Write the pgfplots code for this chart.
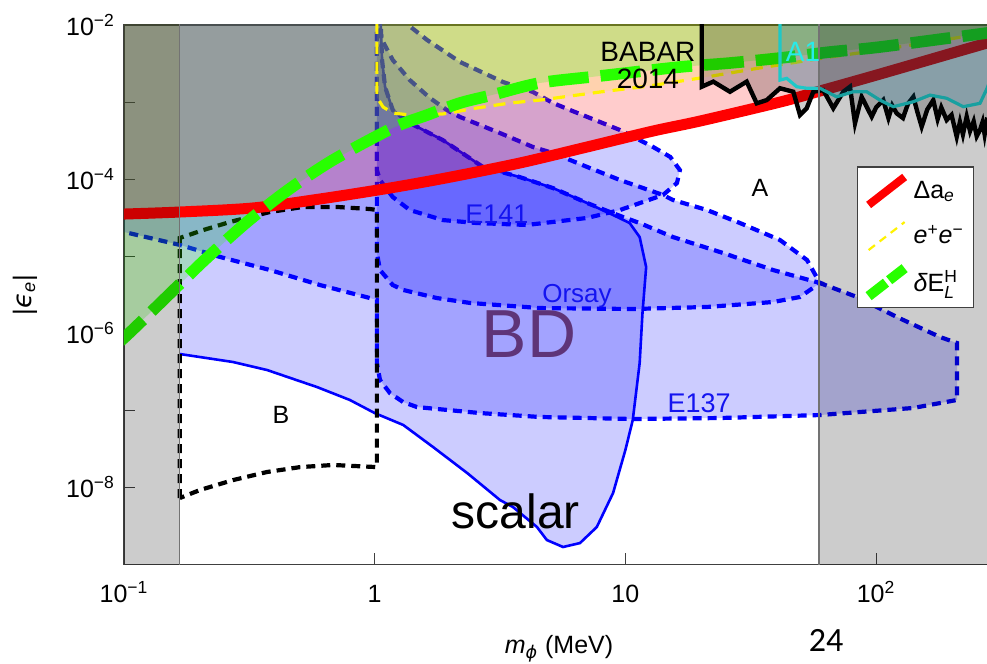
\documentclass[border=0pt]{standalone}
\usepackage{amsmath}
\usepackage{fontspec}
\setmainfont{Liberation Sans}
\newfontfamily\dejavu{DejaVu Sans}
\newfontfamily\carlito{Carlito}
\usepackage{pgfplots}
\pgfplotsset{compat=1.18}
\definecolor{bdpurple}{RGB}{94,52,120}
\definecolor{txtblue}{RGB}{20,20,240}
\definecolor{aoneline}{RGB}{30,200,200}
\definecolor{aonetext}{RGB}{40,235,235}
\definecolor{lgreen}{RGB}{40,255,0}
\begin{document}
\begin{tikzpicture}
\begin{loglogaxis}[
  scale only axis, width=435.86pt, height=269.68pt,
  xmin=0.1, xmax=300, ymin=1e-9, ymax=1e-2,
  xtick={0.1,1,10,100},
  xticklabels={10\textsuperscript{−1},1,10,10\textsuperscript{2}},
  ytick={1e-9,1e-8,1e-7,1e-6,1e-5,1e-4,1e-3,1e-2},
  yticklabels={,10\textsuperscript{−8},,10\textsuperscript{−6},,10\textsuperscript{−4},,10\textsuperscript{−2}},
  xminorticks=false, yminorticks=false,
  tick align=inside, major tick length=5.5pt,
  xtick pos=left, ytick pos=left,
  tick style={black!75, line width=0.5pt},
  axis line style={black!75, line width=0.6pt},
  tick label style={font=\fontsize{12.5}{15}\selectfont},
  xticklabel style={anchor=base, yshift=-19pt},
  yticklabel style={xshift=-1pt},
  xlabel={\textit{m}\textsubscript{{\dejavu\itshape ϕ}} (MeV)},
  xlabel style={at={(axis description cs:0.499,-0.1557)}, anchor=center, font=\fontsize{12.5}{15}\selectfont},
  ylabel={|{\dejavu\itshape ϵ}\textsubscript{\itshape e}|},
  ylabel style={at={(axis description cs:-0.1136,0.4987)}, anchor=center, font=\fontsize{13}{15}\selectfont},
  legend style={at={(0.8409,0.7379)}, anchor=north west, draw=black!75, line width=0.6pt, fill=white,
    font=\fontsize{12.5}{15}\selectfont, row sep=6pt, inner xsep=3pt, inner ysep=3pt},
  legend cell align=left,
  legend image code/.code={\draw[#1] (0pt,-7pt) -- (18pt,7pt);},
]
\addlegendimage{red, line width=4pt}
\addlegendentry{Δa\textsubscript{\itshape e}}
\addlegendimage{yellow, line width=1.1pt, dash pattern=on 4pt off 3pt}
\addlegendentry{\textit{e}\textsuperscript{+}\textit{e}\textsuperscript{−}}
\addlegendimage{lgreen, line width=5pt, dash pattern=on 11pt off 2pt}
\addlegendentry{\textit{δ}E$^{\textup{H}}_{\textit{L}}$}

% ---- scalar region (solid boundary)
\addplot[forget plot, draw=none, fill=blue, fill opacity=0.2] coordinates {
(0.167,0.02) (0.167,5.37e-7) (0.272,4.23e-7) (0.372,3.33e-7) (0.589,2.0e-7) (0.796,1.36e-7)
(1.0,9.2e-8) (1.3,6.44e-8) (1.71,3.33e-8) (2.34,1.53e-8) (3.16,6.84e-9) (3.56,5.55e-9)
(4.44,3.05e-9) (4.86,2.07e-9) (5.64,1.68e-9) (6.59,1.89e-9) (7.69,3.05e-9) (8.93,8.43e-9)
(10.0,3.05e-8) (10.7,7.47e-8) (11.4,4.1e-7) (11.7,1.83e-6) (12.1,7.23e-6) (11.4,1.77e-5)
(10.4,2.69e-5) (8.93,3.42e-5) (7.03,4.9e-5) (5.14,7.66e-5) (3.8,1.06e-4) (2.7,1.44e-4)
(1.87,3.21e-4) (1.38,5.35e-4) (1.18,7.89e-4) (1.1,1.57e-3) (1.07,3.52e-3) (1.05,0.02)} -- cycle;

% ---- E137
\addplot[forget plot, draw=blue, line width=2.1pt, dash pattern=on 4.5pt off 3pt, fill=blue, fill opacity=0.2, draw opacity=1] coordinates {
(0.08,2.3e-5) (0.1,2.06e-5) (0.167,1.4e-5) (0.242,9.75e-6) (0.382,6.61e-6) (0.605,4.22e-6)
(0.957,2.86e-6) (1.02,2.7e-6) (1.02,4.1e-7) (1.05,2.47e-7) (1.15,1.67e-7) (1.297,1.28e-7)
(1.475,1.1e-7) (2.63,9.2e-8) (4.56,8.18e-8) (10.72,7.7e-8) (23.84,7.93e-8) (59.7,8.67e-8)
(140.4,1.07e-7) (210.3,1.36e-7) (210.3,7.46e-7) (179.8,8.93e-7) (121.2,1.62e-6) (83.9,2.95e-6)
(59.7,4.48e-6) (53.0,8.92e-6) (41.37,1.62e-5) (28.65,2.69e-5) (21.16,3.97e-5) (15.48,5.36e-5)
(14.13,6.22e-5) (9.51,9.73e-5) (7.03,1.44e-4) (5.14,2.18e-4) (4.28,2.61e-4) (3.16,3.96e-4)
(2.19,6.4e-4) (1.94,7.89e-4) (1.66,1.13e-3) (1.38,1.93e-3) (1.18,3.52e-3) (1.07,6.38e-3)
(1.04,1e-2) (1.035,0.02) (0.08,0.02)} -- cycle;

% ---- Orsay
\addplot[forget plot, draw=blue, line width=2.1pt, dash pattern=on 4.5pt off 3pt, fill=blue, fill opacity=0.2, draw opacity=1] coordinates {
(1.02,0.02) (1.02,1.1e-5) (1.05,6.61e-6) (1.18,4.22e-6) (1.3,3.64e-6) (1.77,2.86e-6)
(2.4,2.47e-6) (4.56,2.12e-6) (10.7,2.06e-6) (21.16,2.19e-6) (38.8,2.54e-6) (49.7,2.95e-6)
(59.7,4.48e-6) (38.8,6.61e-6) (24.5,1.1e-5) (15.48,1.77e-5) (11.4,2.69e-5) (9.78,3.22e-5)
(8.68,3.74e-5) (7.03,4.9e-5) (5.14,7.66e-5) (3.8,1.06e-4) (2.7,1.44e-4) (1.87,3.21e-4)
(1.38,5.35e-4) (1.18,7.89e-4) (1.1,1.57e-3) (1.07,3.52e-3) (1.05,0.02)} -- cycle;

% ---- E141
\addplot[forget plot, draw=blue, line width=2.1pt, dash pattern=on 4.5pt off 3pt, fill=blue, fill opacity=0.2, draw opacity=1] coordinates {
(1.02,0.02) (1.02,1.31e-4) (1.05,9.73e-5) (1.18,5.86e-5) (1.38,3.97e-5) (1.87,2.94e-5)
(2.56,2.69e-5) (4.05,2.54e-5) (7.03,3.13e-5) (9.51,3.97e-5) (14.13,6.22e-5) (16.06,8.89e-5)
(16.5,1.31e-4) (15.1,1.94e-4) (12.9,2.61e-4) (9.51,4.34e-4) (6.01,7.89e-4) (5.14,9.73e-4)
(4.28,1.35e-3) (3.25,1.82e-3) (2.19,3.31e-3) (1.62,6.38e-3) (1.36,1e-2) (1.3,0.02)} -- cycle;

% ---- scalar solid boundary
\addplot[forget plot, blue, line width=1.3pt] coordinates {
(0.167,5.37e-7) (0.272,4.23e-7) (0.372,3.33e-7) (0.589,2.0e-7) (0.796,1.36e-7)
(1.0,9.2e-8) (1.3,6.44e-8) (1.71,3.33e-8) (2.34,1.53e-8) (3.16,6.84e-9) (3.56,5.55e-9)
(4.44,3.05e-9) (4.86,2.07e-9) (5.64,1.68e-9) (6.59,1.89e-9) (7.69,3.05e-9) (8.93,8.43e-9)
(10.0,3.05e-8) (10.7,7.47e-8) (11.4,4.1e-7) (11.7,1.83e-6) (12.1,7.23e-6) (11.4,1.77e-5)
(10.4,2.69e-5) (8.93,3.42e-5) (7.03,4.9e-5) (5.14,7.66e-5) (3.8,1.06e-4) (2.7,1.44e-4)
(1.87,3.21e-4) (1.38,5.35e-4) (1.18,7.89e-4) (1.1,1.57e-3) (1.07,3.52e-3) (1.05,0.02)};

% ---- B box (black dashed)
\addplot[forget plot, black, line width=2.1pt, dash pattern=on 4.5pt off 3pt] coordinates {
(0.167,7.26e-9) (0.167,1.72e-5) (0.207,2.18e-5) (0.265,2.78e-5) (0.382,3.74e-5) (0.518,4.35e-5)
(0.707,4.35e-5) (0.957,4.09e-5) (1.02,3.97e-5) (1.02,1.83e-8) (0.682,1.95e-8) (0.504,1.83e-8)
(0.372,1.58e-8) (0.272,1.24e-8) (0.201,9.23e-9)} -- cycle;

% ---- translucent exclusion fills
\addplot[forget plot, draw=none, fill=red, fill opacity=0.2] coordinates {
(0.09,3.5e-5) (0.1,3.52e-5) (0.167,3.74e-5) (0.327,4.22e-5) (0.605,5.52e-5) (1.15,7.66e-5)
(2.0,1.06e-4) (3.8,1.62e-4) (7.03,2.61e-4) (12.9,4.21e-4) (19.9,5.68e-4) (41.4,1.0e-3)
(59.7,1.39e-3) (103.7,2.31e-3) (277,5.83e-3) (320,6.5e-3) (320,0.02) (0.09,0.02)} -- cycle;
\addplot[forget plot, draw=none, fill=yellow, fill opacity=0.15] coordinates {
(1.02,0.02) (1.02,1.16e-3) (1.08,8.63e-4) (1.18,7.21e-4) (1.38,6.79e-4) (1.87,7.0e-4)
(2.56,8.38e-4) (3.47,9.72e-4) (4.56,1.06e-3) (7.92,1.35e-3) (12.5,1.62e-3) (19.9,2.05e-3)
(34.4,2.77e-3) (61.4,3.73e-3) (103.7,4.74e-3) (277,7.87e-3) (320,8.3e-3) (320,0.02)} -- cycle;
\addplot[forget plot, draw=none, fill=lgreen, fill opacity=0.22] coordinates {
(0.09,7e-7) (0.1,8.67e-7) (0.167,4.35e-6) (0.214,9.46e-6) (0.31,2.78e-5) (0.451,7.22e-5)
(0.682,1.77e-4) (1.18,4.6e-4) (1.62,6.79e-4) (2.19,9.72e-4) (2.96,1.24e-3) (4.56,1.77e-3)
(7.92,2.18e-3) (16.5,2.85e-3) (26.1,3.21e-3) (41.4,3.73e-3) (65.5,4.46e-3) (103.7,5.18e-3)
(277,7.87e-3) (320,8.3e-3) (320,0.02) (0.09,0.02)} -- cycle;

% ---- lines
\addplot[forget plot, red, line width=5.5pt, smooth] coordinates {
(0.09,3.5e-5) (0.1,3.52e-5) (0.167,3.74e-5) (0.327,4.22e-5) (0.605,5.52e-5) (1.15,7.66e-5)
(2.0,1.06e-4) (3.8,1.62e-4) (7.03,2.61e-4) (12.9,4.21e-4) (19.9,5.68e-4) (41.4,1.0e-3)
(59.7,1.39e-3) (103.7,2.31e-3) (277,5.83e-3) (320,6.5e-3)};
\addplot[forget plot, yellow, line width=1.6pt, dash pattern=on 6pt off 4pt] coordinates {
(1.02,0.02) (1.02,1.16e-3) (1.08,8.63e-4) (1.18,7.21e-4) (1.38,6.79e-4) (1.87,7.0e-4)
(2.56,8.38e-4) (3.47,9.72e-4) (4.56,1.06e-3) (7.92,1.35e-3) (12.5,1.62e-3) (19.9,2.05e-3)
(34.4,2.77e-3) (61.4,3.73e-3) (103.7,4.74e-3) (277,7.87e-3) (320,8.3e-3)};
\addplot[forget plot, lgreen, line width=5.8pt, dash pattern=on 20pt off 6pt, smooth] coordinates {
(0.09,7e-7) (0.1,8.67e-7) (0.167,4.35e-6) (0.214,9.46e-6) (0.31,2.78e-5) (0.451,7.22e-5)
(0.682,1.77e-4) (1.18,4.6e-4) (1.62,6.79e-4) (2.19,9.72e-4) (2.96,1.24e-3) (4.56,1.77e-3)
(7.92,2.18e-3) (16.5,2.85e-3) (26.1,3.21e-3) (41.4,3.73e-3) (65.5,4.46e-3) (103.7,5.18e-3)
(277,7.87e-3) (320,8.3e-3)};

% ---- BABAR 2014
\addplot[forget plot, draw=none, fill=black, fill opacity=0.2] coordinates {
(20.16,0.02) (20.16,1.58e-3) (22.42,1.84e-3) (26.13,1.36e-3) (30.46,1.84e-3) (33.4,9.63e-4)
(36.61,1.06e-3) (41.37,1.51e-3) (46.75,1.36e-3) (49.71,6.79e-4) (52.87,8.3e-4) (56.16,1.36e-3)
(61.55,1.43e-3) (67.5,8.3e-4) (74.0,1.36e-3) (78.69,1.58e-3) (82.38,5.3e-4) (87.6,1.17e-3)
(96.05,6.45e-4) (100,8.5e-4) (106.8,1.06e-3) (112,6.2e-4) (116,9.0e-4) (120.8,7.14e-4)
(128,6.2e-4) (134,9.5e-4) (140.8,1.17e-3) (146,7.5e-4) (152,4.79e-4) (160,8.0e-4)
(169.1,1.06e-3) (176,6.0e-4) (182,8.5e-4) (191.2,5.85e-4) (200,6.8e-4) (209.7,3.55e-4)
(216,5.5e-4) (222,3.8e-4) (229.8,6.45e-4) (237,4.2e-4) (245,5.6e-4) (252,3.6e-4)
(259.7,4.34e-4) (266,5.5e-4) (271,3.8e-4) (277,5.85e-4) (320,5e-4) (320,0.02)} -- cycle;
\addplot[forget plot, black, line width=2.2pt] coordinates {
(20.16,0.02) (20.16,1.58e-3) (22.42,1.84e-3) (26.13,1.36e-3) (30.46,1.84e-3) (33.4,9.63e-4)
(36.61,1.06e-3) (41.37,1.51e-3) (46.75,1.36e-3) (49.71,6.79e-4) (52.87,8.3e-4) (56.16,1.36e-3)
(61.55,1.43e-3) (67.5,8.3e-4) (74.0,1.36e-3) (78.69,1.58e-3) (82.38,5.3e-4) (87.6,1.17e-3)
(96.05,6.45e-4) (100,8.5e-4) (106.8,1.06e-3) (112,6.2e-4) (116,9.0e-4) (120.8,7.14e-4)
(128,6.2e-4) (134,9.5e-4) (140.8,1.17e-3) (146,7.5e-4) (152,4.79e-4) (160,8.0e-4)
(169.1,1.06e-3) (176,6.0e-4) (182,8.5e-4) (191.2,5.85e-4) (200,6.8e-4) (209.7,3.55e-4)
(216,5.5e-4) (222,3.8e-4) (229.8,6.45e-4) (237,4.2e-4) (245,5.6e-4) (252,3.6e-4)
(259.7,4.34e-4) (266,5.5e-4) (271,3.8e-4) (277,5.85e-4) (320,5e-4)};

% ---- A1
\addplot[forget plot, draw=none, fill=cyan, fill opacity=0.17] coordinates {
(41.37,0.02) (41.37,1.93e-3) (44.0,2.03e-3) (48.24,1.58e-3) (52.87,1.51e-3) (59.7,1.51e-3)
(69.6,1.17e-3) (81.1,1.36e-3) (91.7,1.36e-3) (103.6,1.06e-3) (117.1,8.7e-4) (140.8,1.01e-3)
(164.1,1.23e-3) (191.2,1.12e-3) (222.7,8.7e-4) (259.7,9.63e-4) (277,1.5e-3) (300,3e-3) (320,0.02)} -- cycle;
\addplot[forget plot, aoneline, line width=1.6pt] coordinates {
(41.37,0.02) (41.37,1.93e-3) (44.0,2.03e-3) (48.24,1.58e-3) (52.87,1.51e-3) (59.7,1.51e-3)
(69.6,1.17e-3) (81.1,1.36e-3) (91.7,1.36e-3) (103.6,1.06e-3) (117.1,8.7e-4) (140.8,1.01e-3)
(164.1,1.23e-3) (191.2,1.12e-3) (222.7,8.7e-4) (259.7,9.63e-4) (277,1.5e-3) (300,3e-3)};

% ---- grey bands
\addplot[forget plot, draw=none, fill=black, fill opacity=0.2] coordinates {
(0.09,1e-10) (0.167,1e-10) (0.167,0.02) (0.09,0.02)} -- cycle;
\addplot[forget plot, draw=none, fill=black, fill opacity=0.2] coordinates {
(59.2,1e-10) (320,1e-10) (320,0.02) (59.2,0.02)} -- cycle;
\addplot[forget plot, black!55, line width=0.6pt] coordinates {(0.167,1e-10) (0.167,0.02)};
\addplot[forget plot, black!55, line width=0.6pt] coordinates {(59.2,1e-10) (59.2,0.02)};

% ---- labels
\node[anchor=base, inner sep=0pt, font=\fontsize{14}{16}\selectfont] at (axis cs:12.3,3.31e-3) {BABAR};
\node[anchor=base, inner sep=0pt, font=\fontsize{14}{16}\selectfont] at (axis cs:12.3,1.52e-3) {2014};
\node[anchor=base, inner sep=0pt, text=aonetext, font=\fontsize{14}{16}\selectfont] at (axis cs:51.1,3.31e-3) {A1};
\node[anchor=base, inner sep=0pt, font=\fontsize{12.5}{15}\selectfont] at (axis cs:34.4,5.86e-5) {A};
\node[anchor=base, inner sep=0pt, font=\fontsize{12.5}{15}\selectfont] at (axis cs:0.423,6.83e-8) {B};
\node[anchor=base, inner sep=0pt, text=txtblue, font=\fontsize{13.5}{16}\selectfont] at (axis cs:3.07,2.69e-5) {E141};
\node[anchor=base, inner sep=0pt, text=txtblue, font=\fontsize{13}{16}\selectfont] at (axis cs:6.41,2.47e-6) {Orsay};
\node[anchor=base, inner sep=0pt, text=txtblue, font=\fontsize{13.5}{16}\selectfont] at (axis cs:19.7,9.49e-8) {E137};
\node[anchor=base, inner sep=0pt, text=bdpurple, font=\fontsize{34}{40}\selectfont] at (axis cs:4.13,4.91e-7) {BD};
\node[anchor=base, inner sep=0pt, font=\fontsize{24}{28}\selectfont] at (axis cs:3.66,2.96e-9) {scalar};
\end{loglogaxis}
\node[font=\carlito\fontsize{17}{20}\selectfont] at ([xshift=351pt,yshift=-38pt]current axis.south west) {24};
\pgfresetboundingbox
\path[use as bounding box] ([xshift=-62pt,yshift=-49.5pt]current axis.south west) rectangle ([xshift=431.5pt,yshift=12.5pt]current axis.north west);
\end{tikzpicture}
\end{document}
